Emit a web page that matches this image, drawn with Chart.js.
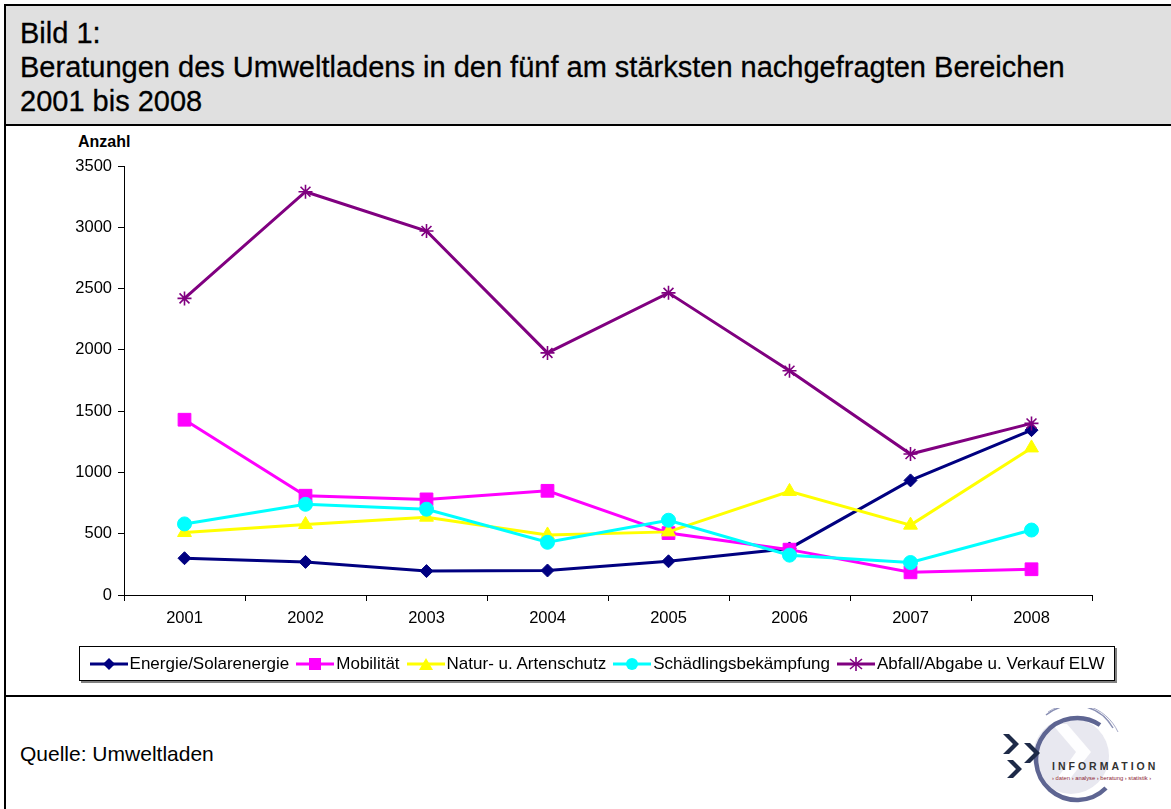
<!DOCTYPE html>
<html><head><meta charset="utf-8">
<script src="https://cdn.jsdelivr.net/npm/chart.js@4/dist/chart.umd.min.js"></script>
<style>
html,body{margin:0;padding:0;background:#fff;}
body{width:1171px;height:809px;position:relative;overflow:hidden;font-family:"Liberation Sans",Arial,sans-serif;}
#frame{position:absolute;left:4px;top:4px;width:1180px;height:820px;border:2px solid #000;box-sizing:border-box;}
#titleband{position:absolute;left:4px;top:4px;width:1180px;height:122px;background:#E0E0E0;border:2px solid #000;box-sizing:border-box;}
#title{position:absolute;left:20px;top:16px;font-size:29px;line-height:34px;color:#000;white-space:nowrap;-webkit-text-stroke:0.3px #000;}
#sep{position:absolute;left:4px;top:695px;width:1180px;height:2px;background:#000;}
#yname{position:absolute;left:78px;top:133px;font-size:16px;font-weight:bold;color:#000;}
#wrap{position:absolute;left:6px;top:126px;width:1165px;height:569px;}
#legend{position:absolute;left:79px;top:646px;width:1036px;height:35px;border:1px solid #000;box-sizing:border-box;box-shadow:2px 2px 0 #808080;background:#fff;display:flex;align-items:center;justify-content:center;gap:7px;font-size:17px;white-space:nowrap;}
.li{display:flex;align-items:center;}
.li svg{margin-right:2px;}
#source{position:absolute;left:20px;top:742px;font-size:21px;color:#000;}
#logo{position:absolute;left:990px;top:708px;}
</style></head>
<body>
<div id="frame"></div>
<div id="titleband"></div>
<div id="title">Bild 1:<br>Beratungen des Umweltladens in den fünf am stärksten nachgefragten Bereichen<br>2001 bis 2008</div>
<div id="yname">Anzahl</div>
<div id="wrap"><canvas id="c" width="1165" height="569"></canvas></div>
<div id="legend"></div>
<div id="sep"></div>
<div id="source">Quelle: Umweltladen</div>
<svg id="logo" width="181" height="100" viewBox="0 0 181 100">
  <circle cx="81" cy="48" r="38" fill="#E8E8F0"/>
  <path d="M62 16 L86 44 L66 72 L79 72 L101 44 L77 16 Z" fill="#FFFFFF" opacity="0.95"/>
  <path d="M110 17 A41 41 0 1 0 116 80" fill="none" stroke="#5E6592" stroke-width="4.5"/>
  <path d="M56 7 A45 45 0 0 1 123 20" fill="none" stroke="#8A90B4" stroke-width="1.5"/>
  <path d="M58 4 A48 48 0 0 1 128 24" fill="none" stroke="#A8ACC8" stroke-width="1"/>
  <path d="M13 26 L23 36 L13 46 L19 46 L29 36 L19 26 Z" fill="#1E2A48"/>
  <path d="M34 35 L44 45 L34 55 L40 55 L50 45 L40 35 Z" fill="#1E2A48"/>
  <path d="M17 52 L26 61 L17 70 L23 70 L32 61 L23 52 Z" fill="#1E2A48"/>
  <text x="62" y="62" font-family="Liberation Sans, Arial" font-size="10.5" font-weight="bold" letter-spacing="3" fill="#333">INFORMATION</text>
  <text x="62" y="72" font-family="Liberation Sans, Arial" font-size="5.8" fill="#8B2332">› daten › analyse › beratung › statistik ›</text>
</svg>
<script>
const years = ["2001","2002","2003","2004","2005","2006","2007","2008"];
const seriesNames = ["Energie/Solarenergie","Mobilität","Natur- u. Artenschutz","Schädlingsbekämpfung","Abfall/Abgabe u. Verkauf ELW"];
const energie   = [300, 270, 195, 200, 275, 380, 935, 1345];
const mobilitaet= [1430, 810, 780, 850, 505, 370, 185, 210];
const natur     = [510, 575, 635, 490, 515, 845, 570, 1200];
const schaedl   = [580, 740, 700, 430, 610, 325, 265, 530];
const abfall    = [2420, 3290, 2970, 1975, 2465, 1830, 1150, 1400];
const yTicks    = [0, 500, 1000, 1500, 2000, 2500, 3000, 3500];

const colors = ["#000080","#FF00FF","#FFFF00","#00FFFF","#800080"];
const styles = ["rectRot","rect","triangle","circle","star"];
const radii  = [6.5, 9, 8, 7, 7];
const values = [energie, mobilitaet, natur, schaedl, abfall];

const datasets = seriesNames.map((n,i)=>({
  label:n, data:values[i], borderColor:colors[i], backgroundColor:colors[i],
  borderWidth:3, pointStyle:styles[i], pointRadius:radii[i], pointHoverRadius:radii[i],
  pointBackgroundColor:colors[i], pointBorderColor:colors[i], pointBorderWidth: styles[i]==="star"?1.6:1,
  tension:0, order: 5-i
}));

new Chart(document.getElementById('c'),{
  type:'line',
  data:{labels:years, datasets},
  options:{
    responsive:false, animation:false, devicePixelRatio:1,
    layout:{padding:{left:0,top:40,right:79,bottom:60}},
    plugins:{legend:{display:false},tooltip:{enabled:false}},
    scales:{
      x:{
        offset:true,
        grid:{display:true, offset:true, drawOnChartArea:false, drawTicks:true, tickLength:6, color:'#000', lineWidth:1},
        border:{display:true,color:'#000',width:1},
        ticks:{color:'#000', font:{family:'"Liberation Sans", Arial', size:16.5}, padding:8, maxRotation:0},
        afterFit:(s)=>{s.height=40;}
      },
      y:{
        min:0, max:3500,
        afterBuildTicks:(s)=>{s.ticks=yTicks.map(v=>({value:v}));},
        grid:{display:true, drawOnChartArea:false, drawTicks:true, tickLength:6, color:'#000', lineWidth:1},
        border:{display:true,color:'#000',width:1},
        ticks:{color:'#000', font:{family:'"Liberation Sans", Arial', size:16.5}, padding:6, callback:(v)=>String(v)},
        afterFit:(s)=>{s.width=118;}
      }
    }
  }
});

function markerSvg(i){
  const c=colors[i];
  let m='';
  if(styles[i]==='rectRot') m=`<polygon points="19,2 25,8 19,14 13,8" fill="${c}"/>`;
  else if(styles[i]==='rect') m=`<rect x="13" y="2" width="12" height="12" fill="${c}"/>`;
  else if(styles[i]==='triangle') m=`<polygon points="19,2 26,14 12,14" fill="${c}"/>`;
  else if(styles[i]==='circle') m=`<circle cx="19" cy="8" r="6" fill="${c}"/>`;
  else m=`<g stroke="${c}" stroke-width="1.6"><line x1="19" y1="1" x2="19" y2="15"/><line x1="13" y1="3" x2="25" y2="13"/><line x1="25" y1="3" x2="13" y2="13"/><line x1="12" y1="8" x2="26" y2="8"/></g>`;
  return `<svg width="38" height="16" viewBox="0 0 38 16"><line x1="0" y1="8" x2="38" y2="8" stroke="${c}" stroke-width="3"/>${m}</svg>`;
}
document.getElementById('legend').innerHTML = seriesNames.map((n,i)=>`<span class="li">${markerSvg(i)}${n}</span>`).join('');
</script>
</body></html>
